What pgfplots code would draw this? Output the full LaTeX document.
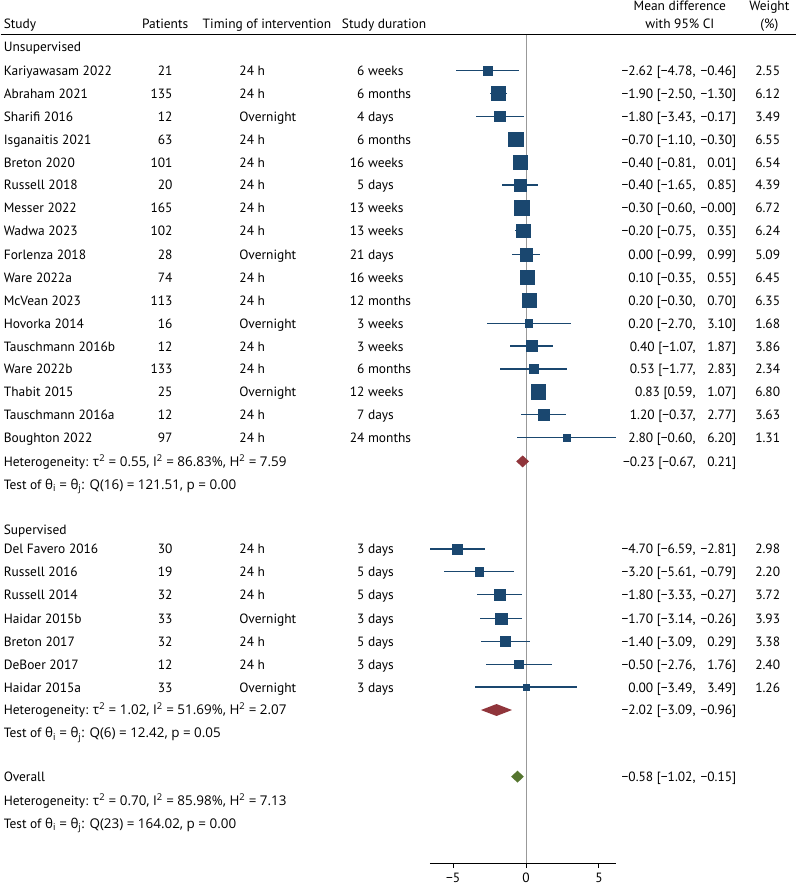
\documentclass[border=0pt]{standalone}
\usepackage{pgfplots}
\pgfplotsset{compat=1.18}
\usepackage{pgfplotstable}
\usepackage{fontspec}
\setmainfont{PT Sans}
\newfontfamily\grk{Open Sans}

\definecolor{stnavy}{RGB}{26,71,111}
\definecolor{stmaroon}{RGB}{144,53,59}
\definecolor{stgreen}{RGB}{85,117,47}

% py = row position from the top, md/lo/hi = mean difference and 95% CI, w = weight (%)
\pgfplotstableread{
py  md     lo     hi     w
71  -2.62  -4.78  -0.46  2.55
94  -1.90  -2.50  -1.30  6.12
117 -1.80  -3.43  -0.17  3.49
140 -0.70  -1.10  -0.30  6.55
163 -0.40  -0.81   0.01  6.54
186 -0.40  -1.65   0.85  4.39
209 -0.30  -0.60  -0.00  6.72
232 -0.20  -0.75   0.35  6.24
256  0.00  -0.99   0.99  5.09
279  0.10  -0.35   0.55  6.45
302  0.20  -0.30   0.70  6.35
325  0.20  -2.70   3.10  1.68
348  0.40  -1.07   1.87  3.86
371  0.53  -1.77   2.83  2.34
394  0.83   0.59   1.07  6.80
417  1.20  -0.37   2.77  3.63
440  2.80  -0.60   6.20  1.31
}\unsup

\pgfplotstableread{
py  md     lo     hi     w
552 -4.70  -6.59  -2.81  2.98
575 -3.20  -5.61  -0.79  2.20
598 -1.80  -3.33  -0.27  3.72
622 -1.70  -3.14  -0.26  3.93
645 -1.40  -3.09   0.29  3.38
668 -0.50  -2.76   1.76  2.40
691  0.00  -3.49   3.49  1.26
}\sup

% text helpers: x and y in picture pixels (origin top left, zero line at x=528.3)
\newcommand{\tl}[3]{\node[anchor=base west,inner sep=0pt] at ([xshift={(#1-528.3)*1pt}]axis cs:0,{-#2-5}) {#3};}
\newcommand{\tr}[3]{\node[anchor=base east,inner sep=0pt] at ([xshift={(#1-528.3)*1pt}]axis cs:0,{-#2-5}) {#3};}
\newcommand{\tc}[3]{\node[anchor=base,inner sep=0pt] at ([xshift={(#1-528.3)*1pt}]axis cs:0,{-#2-5}) {#3};}
\newcommand{\row}[8]{\tl{3}{#1}{#2}\tr{173}{#1}{#3}\tl{240}{#1}{#4}\tl{351}{#1}{#5}\tr{699}{#1}{#6}\tr{740}{#1}{#7}\tr{784}{#1}{#8}}
\newcommand{\thi}{\grk{θ}\textsubscript{i}}
\newcommand{\thj}{\grk{θ}\textsubscript{j}}
\newcommand{\tsq}{\grk{τ}\textsuperscript{2}}

\begin{document}
\fontsize{13.5pt}{16pt}\selectfont
\begin{tikzpicture}
\begin{axis}[
  x=14.67pt, y=1pt,
  xmin=-6.59, xmax=6.20,
  ymin=-868, ymax=-35,
  axis x line=bottom, axis y line=none,
  axis line style={-, black, line width=0.9pt},
  xtick={-5,0,5}, xticklabels={−5,0,5},
  tick align=outside, major tick length=5pt,
  tick style={black, line width=0.9pt},
  clip=false,
]
% page frame and header rule
\path ([xshift=-528.3pt]axis cs:0,0) rectangle ([xshift=271.7pt]axis cs:0,-887);
\draw[black, line width=1.3pt] ([xshift=-528.3pt]axis cs:0,-35) -- ([xshift=271.7pt]axis cs:0,-35);

% line of no effect
\addplot[gray!80, line width=0.9pt] coordinates {(0,-35) (0,-868)};

% confidence intervals
\addplot[only marks, mark=none,
  error bars/.cd, x dir=both, x explicit, error mark=none,
  error bar style={stnavy, line width=1.3pt}]
  table[x=md, y expr=-\thisrow{py}, x error plus expr=\thisrow{hi}-\thisrow{md}, x error minus expr=\thisrow{md}-\thisrow{lo}] {\unsup};
\addplot[only marks, mark=none,
  error bars/.cd, x dir=both, x explicit, error mark=none,
  error bar style={stnavy, line width=1.3pt}]
  table[x=md, y expr=-\thisrow{py}, x error plus expr=\thisrow{hi}-\thisrow{md}, x error minus expr=\thisrow{md}-\thisrow{lo}] {\sup};

% weight squares
\addplot[scatter, only marks, mark=square*,
  scatter/use mapped color={draw=stnavy, fill=stnavy},
  visualization depends on={2.8*sqrt(\thisrow{w}) \as \msz},
  scatter/@pre marker code/.append style={/tikz/mark size=\msz pt}]
  table[x=md, y expr=-\thisrow{py}] {\unsup};
\addplot[scatter, only marks, mark=square*,
  scatter/use mapped color={draw=stnavy, fill=stnavy},
  visualization depends on={2.8*sqrt(\thisrow{w}) \as \msz},
  scatter/@pre marker code/.append style={/tikz/mark size=\msz pt}]
  table[x=md, y expr=-\thisrow{py}] {\sup};

% pooled estimates
\addplot[fill=stmaroon, draw=none] coordinates {(-0.67,-464) (-0.23,-458) (0.21,-464) (-0.23,-470)} --cycle;
\addplot[fill=stmaroon, draw=none] coordinates {(-3.09,-714) (-2.02,-708) (-0.96,-714) (-2.02,-720)} --cycle;
\addplot[fill=stgreen, draw=none] coordinates {(-1.02,-781) (-0.58,-775) (-0.15,-781) (-0.58,-787)} --cycle;

% header
\tl{3}{24}{Study}
\tl{142}{24}{Patients}
\tl{203}{24}{Timing of intervention}
\tl{343}{24}{Study duration}
\tc{683}{6}{Mean difference}
\tc{683}{24}{with 95\% CI}
\tc{773}{6}{Weight}
\tc{773}{24}{(\%)}

\tl{3}{47}{Unsupervised}
\row{71}{Kariyawasam 2022}{21}{24 h}{\phantom{0}6 weeks}{−2.62 [−4.78,}{−0.46]}{2.55}
\row{94}{Abraham 2021}{135}{24 h}{\phantom{0}6 months}{−1.90 [−2.50,}{−1.30]}{6.12}
\row{117}{Sharifi 2016}{12}{Overnight}{\phantom{0}4 days}{−1.80 [−3.43,}{−0.17]}{3.49}
\row{140}{Isganaitis 2021}{63}{24 h}{\phantom{0}6 months}{−0.70 [−1.10,}{−0.30]}{6.55}
\row{163}{Breton 2020}{101}{24 h}{16 weeks}{−0.40 [−0.81,}{0.01]}{6.54}
\row{186}{Russell 2018}{20}{24 h}{\phantom{0}5 days}{−0.40 [−1.65,}{0.85]}{4.39}
\row{209}{Messer 2022}{165}{24 h}{13 weeks}{−0.30 [−0.60,}{−0.00]}{6.72}
\row{232}{Wadwa 2023}{102}{24 h}{13 weeks}{−0.20 [−0.75,}{0.35]}{6.24}
\row{256}{Forlenza 2018}{28}{Overnight}{21 days}{0.00 [−0.99,}{0.99]}{5.09}
\row{279}{Ware 2022a}{74}{24 h}{16 weeks}{0.10 [−0.35,}{0.55]}{6.45}
\row{302}{McVean 2023}{113}{24 h}{12 months}{0.20 [−0.30,}{0.70]}{6.35}
\row{325}{Hovorka 2014}{16}{Overnight}{\phantom{0}3 weeks}{0.20 [−2.70,}{3.10]}{1.68}
\row{348}{Tauschmann 2016b}{12}{24 h}{\phantom{0}3 weeks}{0.40 [−1.07,}{1.87]}{3.86}
\row{371}{Ware 2022b}{133}{24 h}{\phantom{0}6 months}{0.53 [−1.77,}{2.83]}{2.34}
\row{394}{Thabit 2015}{25}{Overnight}{12 weeks}{0.83 [0.59,}{1.07]}{6.80}
\row{417}{Tauschmann 2016a}{12}{24 h}{\phantom{0}7 days}{1.20 [−0.37,}{2.77]}{3.63}
\row{440}{Boughton 2022}{97}{24 h}{24 months}{2.80 [−0.60,}{6.20]}{1.31}
\tl{3}{464}{Heterogeneity: \tsq{} = 0.55, I\textsuperscript{2} = 86.83\%, H\textsuperscript{2} = 7.59}
\tr{699}{464}{−0.23 [−0.67,}\tr{740}{464}{0.21]}
\tl{3}{487}{Test of \thi{} = \thj: Q(16) = 121.51, p = 0.00}

\tl{3}{533}{Supervised}
\row{552}{Del Favero 2016}{30}{24 h}{\phantom{0}3 days}{−4.70 [−6.59,}{−2.81]}{2.98}
\row{575}{Russell 2016}{19}{24 h}{\phantom{0}5 days}{−3.20 [−5.61,}{−0.79]}{2.20}
\row{598}{Russell 2014}{32}{24 h}{\phantom{0}5 days}{−1.80 [−3.33,}{−0.27]}{3.72}
\row{622}{Haidar 2015b}{33}{Overnight}{\phantom{0}3 days}{−1.70 [−3.14,}{−0.26]}{3.93}
\row{645}{Breton 2017}{32}{24 h}{\phantom{0}5 days}{−1.40 [−3.09,}{0.29]}{3.38}
\row{668}{DeBoer 2017}{12}{24 h}{\phantom{0}3 days}{−0.50 [−2.76,}{1.76]}{2.40}
\row{691}{Haidar 2015a}{33}{Overnight}{\phantom{0}3 days}{0.00 [−3.49,}{3.49]}{1.26}
\tl{3}{714}{Heterogeneity: \tsq{} = 1.02, I\textsuperscript{2} = 51.69\%, H\textsuperscript{2} = 2.07}
\tr{699}{714}{−2.02 [−3.09,}\tr{740}{714}{−0.96]}
\tl{3}{737}{Test of \thi{} = \thj: Q(6) = 12.42, p = 0.05}

\tl{3}{781}{Overall}
\tr{699}{781}{−0.58 [−1.02,}\tr{740}{781}{−0.15]}
\tl{3}{805}{Heterogeneity: \tsq{} = 0.70, I\textsuperscript{2} = 85.98\%, H\textsuperscript{2} = 7.13}
\tl{3}{828}{Test of \thi{} = \thj: Q(23) = 164.02, p = 0.00}
\end{axis}
\end{tikzpicture}
\end{document}
